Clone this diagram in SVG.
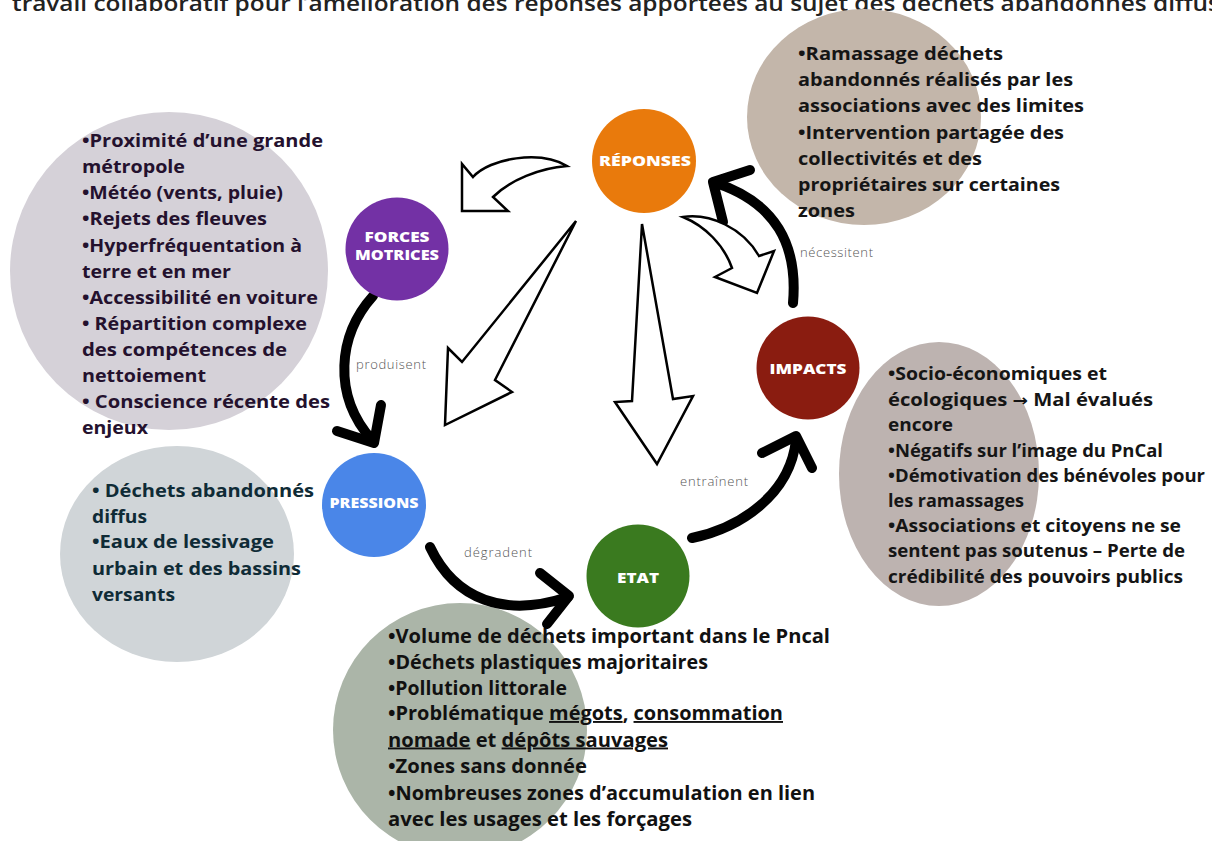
<svg xmlns="http://www.w3.org/2000/svg" width="1212" height="841" viewBox="0 0 1212 841">
<style>
.det{font-family:"Open Sans","Liberation Sans",sans-serif;font-weight:700}
.nl{font-family:"Open Sans","Liberation Sans",sans-serif;font-weight:800;font-size:14.5px;fill:#fff;text-anchor:middle}
.lbl{font-family:"Open Sans","Liberation Sans",sans-serif;font-weight:300;font-size:13px;fill:#555}
.thick{fill:none;stroke:#000;stroke-width:10;stroke-linecap:round;stroke-linejoin:round}
.hollow{fill:#fff;stroke:#000;stroke-width:2.5;stroke-linejoin:miter}
.u{text-decoration:underline}
</style>
<rect width="1212" height="841" fill="#fff"/>
<text x="12" y="11" font-family="'Open Sans','Liberation Sans',sans-serif" font-weight="600" font-size="22" fill="#222" textLength="1208" lengthAdjust="spacingAndGlyphs">travail collaboratif pour l’amélioration des réponses apportées au sujet des déchets abandonnés diffus</text>

<g id="forces-detail">
<circle cx="169" cy="271" r="159" fill="#D5D1D8"/>
<g class="det" font-size="18.5" fill="#24112E">
<text x="82" y="147" textLength="241" lengthAdjust="spacingAndGlyphs">•Proximité d’une grande</text>
<text x="82" y="173" textLength="103" lengthAdjust="spacingAndGlyphs">métropole</text>
<text x="82" y="199" textLength="201" lengthAdjust="spacingAndGlyphs">•Météo (vents, pluie)</text>
<text x="82" y="225" textLength="185" lengthAdjust="spacingAndGlyphs">•Rejets des fleuves</text>
<text x="82" y="251.5" textLength="220" lengthAdjust="spacingAndGlyphs">•Hyperfréquentation à</text>
<text x="82" y="277.5" textLength="149" lengthAdjust="spacingAndGlyphs">terre et en mer</text>
<text x="82" y="303.5" textLength="236" lengthAdjust="spacingAndGlyphs">•Accessibilité en voiture</text>
<text x="82" y="329.5" textLength="225" lengthAdjust="spacingAndGlyphs">• Répartition complexe</text>
<text x="82" y="355.5" textLength="205" lengthAdjust="spacingAndGlyphs">des compétences de</text>
<text x="82" y="381.5" textLength="124" lengthAdjust="spacingAndGlyphs">nettoiement</text>
<text x="82" y="407.5" textLength="248" lengthAdjust="spacingAndGlyphs">• Conscience récente des</text>
<text x="82" y="434" textLength="66" lengthAdjust="spacingAndGlyphs">enjeux</text>
</g>
</g>

<g id="pressions-detail">
<ellipse cx="177" cy="554" rx="117" ry="108" fill="#D0D5D8"/>
<g class="det" font-size="18.5" fill="#0F2B36">
<text x="92" y="496.5" textLength="222" lengthAdjust="spacingAndGlyphs">• Déchets abandonnés</text>
<text x="92" y="522.5" textLength="55" lengthAdjust="spacingAndGlyphs">diffus</text>
<text x="92" y="548" textLength="182" lengthAdjust="spacingAndGlyphs">•Eaux de lessivage</text>
<text x="92" y="574.5" textLength="209" lengthAdjust="spacingAndGlyphs">urbain et des bassins</text>
<text x="92" y="600.5" textLength="83" lengthAdjust="spacingAndGlyphs">versants</text>
</g>
</g>

<g id="etat-detail">
<circle cx="460" cy="730" r="127" fill="#ABB5A8"/>
<g class="det" font-size="19" fill="#111">
<text x="388" y="643" textLength="442" lengthAdjust="spacingAndGlyphs">•Volume de déchets important dans le Pncal</text>
<text x="388" y="668.5" textLength="320" lengthAdjust="spacingAndGlyphs">•Déchets plastiques majoritaires</text>
<text x="388" y="694.5" textLength="179" lengthAdjust="spacingAndGlyphs">•Pollution littorale</text>
<text x="388" y="720" textLength="395" lengthAdjust="spacingAndGlyphs">•Problématique <tspan class="u">mégots</tspan>, <tspan class="u">consommation</tspan></text>
<text x="388" y="746.5" textLength="280" lengthAdjust="spacingAndGlyphs"><tspan class="u">nomade</tspan> et <tspan class="u">dépôts sauvages</tspan></text>
<text x="388" y="773" textLength="199" lengthAdjust="spacingAndGlyphs">•Zones sans donnée</text>
<text x="388" y="799.5" textLength="427" lengthAdjust="spacingAndGlyphs">•Nombreuses zones d’accumulation en lien</text>
<text x="388" y="825.5" textLength="304" lengthAdjust="spacingAndGlyphs">avec les usages et les forçages</text>
</g>
</g>

<g id="reponses-detail">
<ellipse cx="864" cy="117" rx="117" ry="108" fill="#C3B6AA"/>
<g class="det" font-size="17" font-weight="600" fill="#151515">
<text x="798" y="59.5" textLength="205" lengthAdjust="spacingAndGlyphs">•Ramassage déchets</text>
<text x="798" y="86" textLength="275" lengthAdjust="spacingAndGlyphs">abandonnés réalisés par les</text>
<text x="798" y="112" textLength="286" lengthAdjust="spacingAndGlyphs">associations avec des limites</text>
<text x="798" y="138.5" textLength="266" lengthAdjust="spacingAndGlyphs">•Intervention partagée des</text>
<text x="798" y="164.5" textLength="184" lengthAdjust="spacingAndGlyphs">collectivités et des</text>
<text x="798" y="190.5" textLength="262" lengthAdjust="spacingAndGlyphs">propriétaires sur certaines</text>
<text x="798" y="217" textLength="57" lengthAdjust="spacingAndGlyphs">zones</text>
</g>
</g>

<g id="impacts-detail">
<ellipse cx="939" cy="474" rx="100" ry="132" fill="#BDB3B0"/>
<g class="det" font-size="17.5" fill="#151515">
<text x="888" y="380" textLength="219" lengthAdjust="spacingAndGlyphs">•Socio-économiques et</text>
<text x="888" y="405.5" textLength="265" lengthAdjust="spacingAndGlyphs">écologiques <tspan font-family="'DejaVu Sans',sans-serif" font-size="16">→</tspan> Mal évalués</text>
<text x="888" y="431" textLength="65" lengthAdjust="spacingAndGlyphs">encore</text>
<text x="888" y="456.5" textLength="275" lengthAdjust="spacingAndGlyphs">•Négatifs sur l’image du PnCal</text>
<text x="888" y="481.5" textLength="317" lengthAdjust="spacingAndGlyphs">•Démotivation des bénévoles pour</text>
<text x="888" y="506.5" textLength="136" lengthAdjust="spacingAndGlyphs">les ramassages</text>
<text x="888" y="532" textLength="293" lengthAdjust="spacingAndGlyphs">•Associations et citoyens ne se</text>
<text x="888" y="557" textLength="297" lengthAdjust="spacingAndGlyphs">sentent pas soutenus – Perte de</text>
<text x="888" y="582.5" textLength="295" lengthAdjust="spacingAndGlyphs">crédibilité des pouvoirs publics</text>
</g>
</g>

<g id="connectors">
<path class="thick" d="M373,296 C338,335 332,395 372,440"/>
<polyline class="thick" points="337,431 374,443 381,405"/>
<text class="lbl" x="356" y="369" textLength="70">produisent</text>

<path class="thick" d="M430,547 C455,600 505,618 568,597"/>
<polyline class="thick" points="540,573 569,596 547,624"/>
<text class="lbl" x="464" y="557" textLength="68">dégradent</text>

<path class="thick" d="M692,538 C740,528 790,495 796,440"/>
<polyline class="thick" points="762,453 796,436 812,468"/>
<text class="lbl" x="680" y="486" textLength="68">entraînent</text>

<path class="thick" d="M793,303 C798,245 776,203 716,183"/>
<polyline class="thick" points="750,170 713,182 723,222"/>
<text class="lbl" x="800" y="257" textLength="73">nécessitent</text>

<path class="hollow" d="M567,166 C540,150 490,158 473,177 L462,164 L462,211 L508,211 L493,197 C510,180 540,168 567,166 Z"/>
<path class="hollow" d="M576,221 L462,362 L448,348 L445,425 L512,392 L495,380 Z"/>
<path class="hollow" d="M642,224 L632,401 L615,402 L657,464 L693,396 L673,399 Z"/>
<path class="hollow" d="M683,217 C710,213 743,228 759,256 L774,251 L757,293 L715,277 L732,268 C724,245 705,226 683,217 Z"/>
</g>

<g id="reponses">
<circle cx="644" cy="161" r="52" fill="#E97A0C"/>
<text class="nl" x="645" y="166" textLength="92" lengthAdjust="spacingAndGlyphs">RÉPONSES</text>
</g>
<g id="forces-motrices">
<circle cx="397" cy="249" r="51.5" fill="#7331A5"/>
<text class="nl" x="397" y="241.5" textLength="65" lengthAdjust="spacingAndGlyphs">FORCES</text>
<text class="nl" x="397" y="260" textLength="84" lengthAdjust="spacingAndGlyphs">MOTRICES</text>
</g>
<g id="pressions">
<circle cx="374" cy="505" r="52" fill="#4A86E8"/>
<text class="nl" x="374" y="507.5" textLength="89" lengthAdjust="spacingAndGlyphs">PRESSIONS</text>
</g>
<g id="etat">
<circle cx="638" cy="576" r="51.5" fill="#3A7A1F"/>
<text class="nl" x="638" y="582.5" textLength="42" lengthAdjust="spacingAndGlyphs">ETAT</text>
</g>
<g id="impacts">
<circle cx="808" cy="368" r="51.5" fill="#8A1C10"/>
<text class="nl" x="808" y="373.5" textLength="77" lengthAdjust="spacingAndGlyphs">IMPACTS</text>
</g>
</svg>
